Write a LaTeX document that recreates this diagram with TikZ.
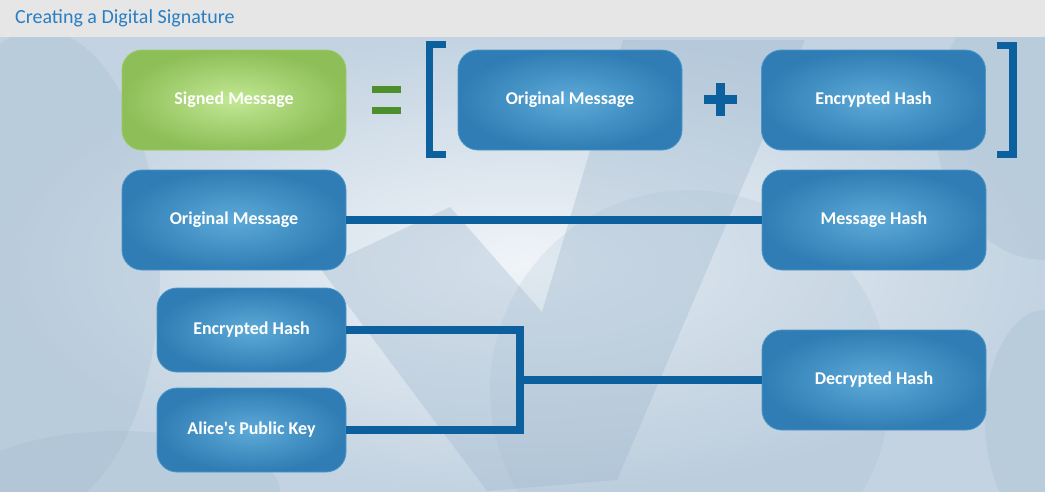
\documentclass[tikz,border=0pt]{standalone}
\usepackage{fontspec}
\setmainfont{Carlito}
\definecolor{titlebg}{HTML}{E6E6E6}
\definecolor{titlefg}{HTML}{2A7EC3}
\definecolor{bgin}{HTML}{F0F4F8}
\definecolor{bgout}{HTML}{C3D3E1}
\definecolor{deco}{HTML}{9FB8CE}
\definecolor{boxin}{HTML}{5DAAD8}
\definecolor{boxout}{HTML}{2F7DB4}
\definecolor{boxedge}{HTML}{4A97C8}
\definecolor{grin}{HTML}{C2E894}
\definecolor{grout}{HTML}{8DBE57}
\definecolor{gredge}{HTML}{9ACB66}
\definecolor{eqgreen}{HTML}{4C8F2C}
\definecolor{lineblue}{HTML}{0B609D}
\tikzset{
  bbox/.style={rounded corners=20pt, inner color=boxin, outer color=boxout, draw=boxedge, line width=0.8pt,
    text=white, font=\bfseries\fontsize{18}{21}\selectfont, minimum width=224pt, minimum height=100pt, inner sep=0pt},
  sbox/.style={bbox, minimum width=189pt, minimum height=84pt},
  gbox/.style={bbox, inner color=grin, outer color=grout, draw=gredge},
  conn/.style={draw=lineblue, line width=7.5pt, line join=miter},
  bracket/.style={draw=lineblue, line width=7.5pt, line join=miter},
  decoshape/.style={fill=deco, opacity=0.25, draw=none}
}
\begin{document}
\begin{tikzpicture}[x=1pt,y=-1pt]
\useasboundingbox (0,0) rectangle (1045,491);
% background
\shade[inner color=bgin, outer color=bgout] (0,37) rectangle (1045,491);
\begin{scope}
\clip (0,37) rectangle (1045,491);
\fill[decoshape] (40,270) ellipse [x radius=120, y radius=240];
\fill[decoshape] (1045,120) ellipse [x radius=110, y radius=140];
\fill[decoshape] (1045,420) ellipse [x radius=60, y radius=110];
\fill[decoshape, opacity=0.18] (690,390) ellipse [x radius=200, y radius=200];
\fill[decoshape, opacity=0.35] (320,268) -- (450,207) -- (542,312) -- (623,40) -- (805,40) -- (617,480) -- (487,491) -- cycle;
\fill[decoshape] (120,491) ellipse [x radius=160, y radius=60];
\end{scope}
% title bar
\fill[titlebg] (0,0) rectangle (1045,37);
\node[anchor=west, text=titlefg, font=\fontsize{20}{24}\selectfont, inner sep=0pt] (title) at (15,18) {Creating a Digital Signature};
% boxes
\node[gbox] (sm) at (234,100) {\raisebox{-2pt}{Signed Message}};
\node[bbox] (om1) at (570,100) {\raisebox{-2pt}{Original Message}};
\node[bbox] (eh1) at (873.5,100) {\raisebox{-2pt}{Encrypted Hash}};
\node[bbox] (om2) at (234,220) {\raisebox{-2pt}{Original Message}};
\node[bbox] (mh) at (874,220) {\raisebox{-2pt}{Message Hash}};
\node[sbox] (eh2) at (251.5,330) {\raisebox{-2pt}{Encrypted Hash}};
\node[sbox] (apk) at (251.5,430) {\raisebox{-2pt}{Alice\textquotesingle s Public Key}};
\node[bbox] (dh) at (874,380) {\raisebox{-2pt}{Decrypted Hash}};
% equals and plus
\fill[eqgreen] (372,86) rectangle (401,93);
\fill[eqgreen] (372,107) rectangle (401,114);
\fill[lineblue] (716,83) rectangle (725,116);
\fill[lineblue] (704,95) rectangle (737,104);
% brackets
\draw[bracket] (446,44.5) -- (429.5,44.5) -- (429.5,154.5) -- (446,154.5);
\draw[bracket] (997,45.5) -- (1013,45.5) -- (1013,154.5) -- (997,154.5);
% connectors
\coordinate (j) at (520,380);
\draw[conn] (om2.east) -- (mh.west);
\draw[conn] (eh2.east) -| (j) |- (apk.east);
\draw[conn] (j) -- (dh.west);
\end{tikzpicture}
\end{document}
